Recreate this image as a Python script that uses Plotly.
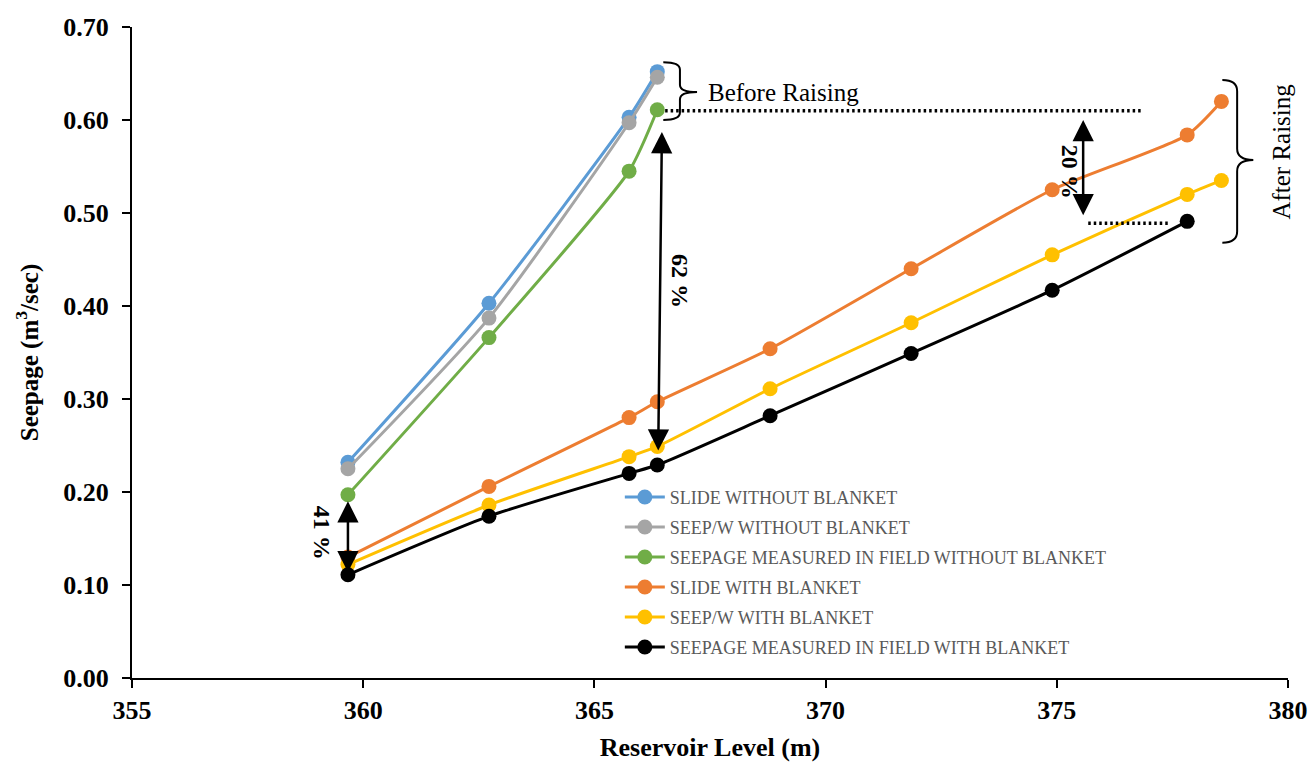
import plotly.graph_objects as go

# ---- data ----
level_before = [359.67, 362.72, 365.75, 366.36]
slide_without = [0.232, 0.403, 0.603, 0.652]
seepw_without = [0.225, 0.387, 0.597, 0.646]
field_without = [0.197, 0.366, 0.545, 0.611]

level_after = [359.67, 362.72, 365.75, 366.36, 368.80, 371.85, 374.90, 377.82, 378.56]
slide_with = [0.130, 0.206, 0.280, 0.297, 0.354, 0.440, 0.525, 0.584, 0.620]
seepw_with = [0.122, 0.186, 0.238, 0.249, 0.311, 0.382, 0.455, 0.520, 0.535]
level_field_with = [359.67, 362.72, 365.75, 366.36, 368.80, 371.85, 374.90, 377.82]
field_with = [0.111, 0.174, 0.220, 0.229, 0.282, 0.349, 0.417, 0.491]

series = [
    ("SLIDE WITHOUT BLANKET", level_before, slide_without, "#5B9BD5"),
    ("SEEP/W WITHOUT BLANKET", level_before, seepw_without, "#A5A5A5"),
    ("SEEPAGE MEASURED IN FIELD WITHOUT BLANKET", level_before, field_without, "#70AD47"),
    ("SLIDE WITH BLANKET", level_after, slide_with, "#ED7D31"),
    ("SEEP/W WITH BLANKET", level_after, seepw_with, "#FFC000"),
    ("SEEPAGE MEASURED IN FIELD WITH BLANKET", level_field_with, field_with, "#000000"),
]

x_ticks = [355, 360, 365, 370, 375, 380]
y_ticks = [0.0, 0.1, 0.2, 0.3, 0.4, 0.5, 0.6, 0.7]

SERIF = "Liberation Serif, Times New Roman, serif"

fig = go.Figure()
for i, (name, xs, ys, col) in enumerate(series):
    fig.add_trace(go.Scatter(
        x=xs, y=ys, name=name, mode="lines+markers",
        line=dict(color=col, width=3, shape="spline", smoothing=0.6),
        marker=dict(color=col, size=15),
        legendgroup=f"g{i}",
    ))

# ---- arrows ----
def darrow(x0, y0, x1, y1):
    fig.add_annotation(
        x=x1, y=y1, ax=x0, ay=y0, xref="x", yref="y", axref="x", ayref="y",
        text="", showarrow=True, arrowside="end+start",
        arrowhead=2, startarrowhead=2, arrowsize=1.7, startarrowsize=1.7,
        arrowwidth=2.5, arrowcolor="black", standoff=0, startstandoff=0,
    )

darrow(359.67, 0.112, 359.67, 0.190)
darrow(366.38, 0.243, 366.46, 0.587)
darrow(375.57, 0.496, 375.57, 0.600)

pct_font = dict(family=SERIF, size=24, color="black")
for txt, x, y in [("<b>41 %</b>", 359.11, 0.156), ("<b>62 %</b>", 366.85, 0.427), ("<b>20 %</b>", 375.29, 0.544)]:
    fig.add_annotation(x=x, y=y, xref="x", yref="y", text=txt, showarrow=False,
                       textangle=90, font=pct_font)

# ---- dotted guide lines ----
fig.add_shape(type="line", x0=366.53, x1=376.85, y0=0.610, y1=0.610, xref="x", yref="y",
              line=dict(color="black", width=3.5, dash="2.5px,3px"))
fig.add_shape(type="line", x0=375.68, x1=377.45, y0=0.489, y1=0.489, xref="x", yref="y",
              line=dict(color="black", width=3.5, dash="2.5px,3px"))

# ---- braces ----
def brace(x0, x1, x2, yt, ym, yb, r):
    p = (f"M {x0},{yt} Q {x1},{yt} {x1},{yt - r} L {x1},{ym + r} "
         f"Q {x1},{ym} {x2},{ym} Q {x1},{ym} {x1},{ym - r} L {x1},{yb + r} "
         f"Q {x1},{yb} {x0},{yb}")
    fig.add_shape(type="path", path=p, xref="x", yref="y", line=dict(color="black", width=2))

brace(366.49, 366.85, 367.22, 0.662, 0.630, 0.600, 0.008)
brace(378.58, 378.90, 379.25, 0.643, 0.557, 0.468, 0.012)

fig.add_annotation(x=367.42, y=0.630, xref="x", yref="y", text="Before Raising",
                   showarrow=False, xanchor="left", font=dict(family=SERIF, size=25, color="black"))
fig.add_annotation(x=379.87, y=0.566, xref="x", yref="y", text="After Raising",
                   showarrow=False, textangle=-90, font=dict(family=SERIF, size=25, color="black"))

tick_font = dict(family=SERIF, size=26, color="black", weight="bold")
fig.update_layout(
    width=1311, height=762,
    margin=dict(l=132, r=23, t=27, b=84),
    plot_bgcolor="white", paper_bgcolor="white",
    showlegend=True,
    legend=dict(x=0.422, y=0.306, xanchor="left", yanchor="top",
                font=dict(family=SERIF, size=18, color="#595959"),
                bgcolor="rgba(0,0,0,0)", itemwidth=40, tracegroupgap=3.6,
                traceorder="grouped"),
    xaxis=dict(range=[355, 380], tickvals=x_ticks, ticktext=[str(v) for v in x_ticks],
               showgrid=False, zeroline=False, showline=True, linecolor="black", linewidth=2,
               ticks="outside", ticklen=8, tickwidth=2, tickcolor="black",
               tickfont=tick_font,
               title=dict(text="<b>Reservoir Level (m)</b>", font=dict(family=SERIF, size=26, color="black"), standoff=21),
               automargin=False),
    yaxis=dict(range=[0, 0.7], tickvals=y_ticks, ticktext=[f"{v:.2f}" for v in y_ticks],
               showgrid=False, zeroline=False, showline=True, linecolor="black", linewidth=2,
               ticks="outside", ticklen=8, tickwidth=2, tickcolor="black",
               tickfont=tick_font, ticklabelstandoff=8,
               title=dict(text="<b>Seepage (m<sup>3</sup>/sec)</b>", font=dict(family=SERIF, size=25, color="black"), standoff=18),
               automargin=False),
    xaxis2=dict(range=[355, 380], overlaying="x", anchor="y", side="bottom", tickvals=x_ticks,
                showticklabels=False, showgrid=False, zeroline=False, ticks="inside", ticklen=8,
                tickwidth=2, tickcolor="black", showline=False),
    yaxis2=dict(range=[0, 0.7], overlaying="y", anchor="x", side="left", tickvals=y_ticks,
                showticklabels=False, showgrid=False, zeroline=False, ticks="inside", ticklen=8,
                tickwidth=2, tickcolor="black", showline=False),
)

fig.write_html("out.html", config={"displayModeBar": False},
               post_script="document.body.style.margin='0';document.body.style.overflow='hidden';")
